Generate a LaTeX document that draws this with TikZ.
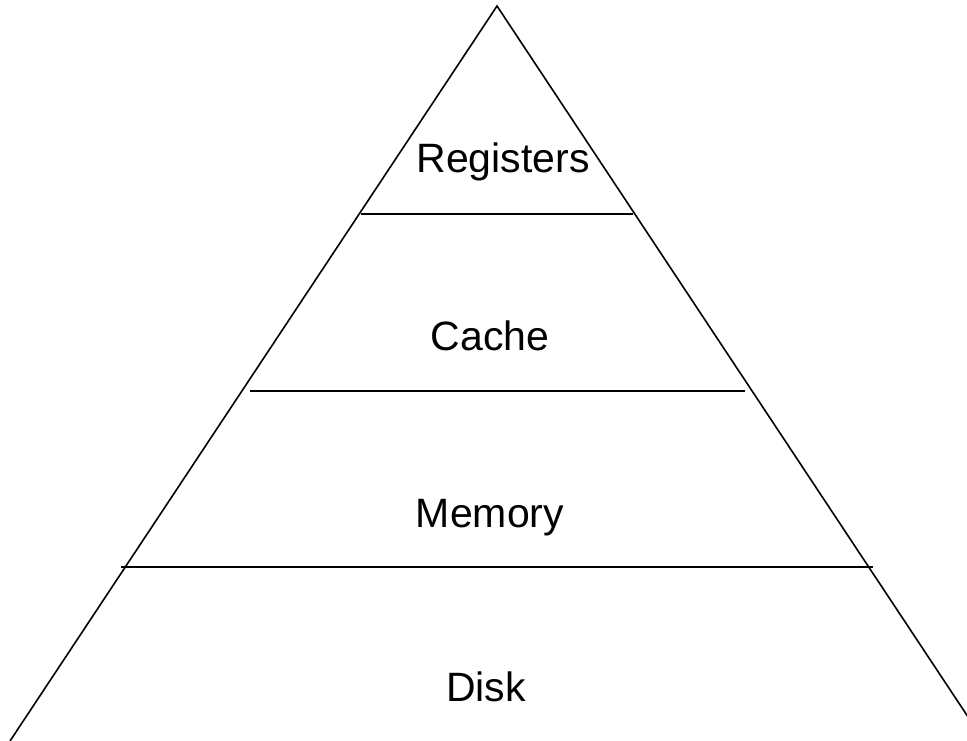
\documentclass[tikz,border=0pt]{standalone}
\usepackage{fontspec}
\setmainfont{Liberation Sans}
\begin{document}
\begin{tikzpicture}[x=1pt,y=-1pt,
  edge/.style={line width=1.6pt,black},
  level/.style={anchor=base,inner sep=0pt,font=\fontsize{41}{44}\selectfont}]
\useasboundingbox (0,0) rectangle (967,741);
\clip (0,0) rectangle (967,741);
\fill[white] (0,0) rectangle (967,741);
\coordinate (apex) at (497,6);
\coordinate (bl) at (10,741);
\coordinate (br) at (984,741);
\draw[edge,line join=miter] (bl) -- (apex) -- (br);
\coordinate (l1a) at (361,214); \coordinate (l1b) at (633,214);
\coordinate (l2a) at (250,391); \coordinate (l2b) at (745,391);
\coordinate (l3a) at (121,567); \coordinate (l3b) at (873,567);
\draw[edge] (l1a) -- (l1b);
\draw[edge] (l2a) -- (l2b);
\draw[edge] (l3a) -- (l3b);
\node[level] (reg) at (503,172) {Registers};
\node[level] (cache) at (490,350) {Cache};
\node[level] (mem) at (490,527) {Memory};
\node[level] (disk) at (486,701) {Disk};
\end{tikzpicture}
\end{document}
